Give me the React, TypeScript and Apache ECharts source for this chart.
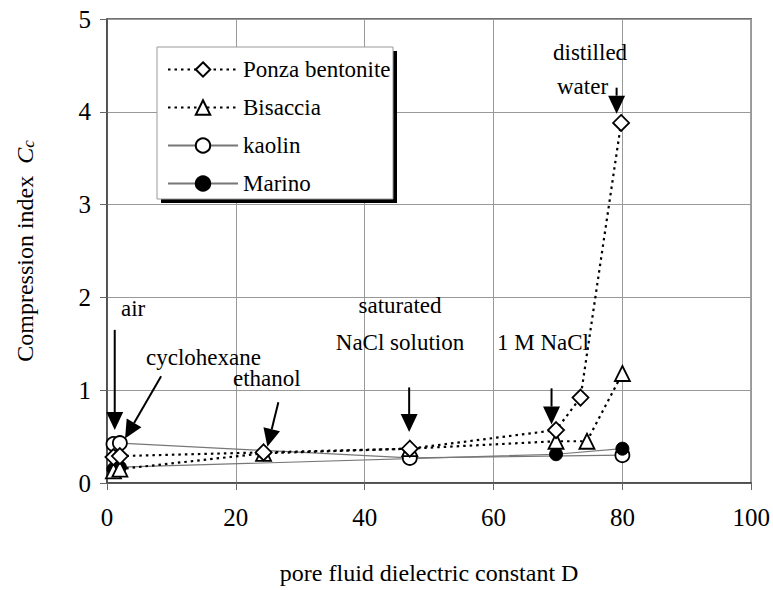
import React, { useEffect, useRef } from "react";
import * as echarts from "echarts";

const FONT = "Liberation Serif";

const D_PONZA = [1, 2, 24.3, 47, 69.7, 73.5, 79.8];
const CC_PONZA = [0.28, 0.29, 0.33, 0.37, 0.57, 0.92, 3.88];
const D_BISACCIA = [1, 2, 24.3, 47, 69.7, 74.5, 80];
const CC_BISACCIA = [0.13, 0.15, 0.32, 0.37, 0.45, 0.45, 1.18];
const D_KAOLIN = [1, 2, 47, 80];
const CC_KAOLIN = [0.42, 0.43, 0.27, 0.3];
const D_MARINO = [1, 2, 69.7, 80];
const CC_MARINO = [0.15, 0.17, 0.31, 0.37];

const X_TICKS = [0, 20, 40, 60, 80, 100];
const Y_TICKS = [0, 1, 2, 3, 4, 5];

// arrows: tail (D, Cc) -> head (D, Cc)
const ARROW_TAIL_D = [1.2, 8.4, 26.6, 46.9, 69.0, 79.1];
const ARROW_TAIL_CC = [1.65, 1.15, 0.87, 1.03, 1.02, 4.26];
const ARROW_HEAD_D = [1.2, 2.8, 24.9, 46.9, 69.0, 79.1];
const ARROW_HEAD_CC = [0.57, 0.48, 0.39, 0.55, 0.63, 3.98];

const pairs = (xs: number[], ys: number[]) => xs.map((x, i) => [x, ys[i]]);

export default function App() {
  const ref = useRef<HTMLDivElement>(null);
  useEffect(() => {
    if (!ref.current) return;
    const chart = echarts.init(ref.current, undefined, { renderer: "svg" });
    const markerStyle = { color: "#fff", borderColor: "#000", borderWidth: 1.8 };
    const dotted = { color: "#000", width: 2.2, type: [2.5, 4] as any };
    const thin = { color: "#777", width: 1.2, type: "solid" as any };
    const arrows = ARROW_TAIL_D.map((d, i) => [d, ARROW_TAIL_CC[i], ARROW_HEAD_D[i], ARROW_HEAD_CC[i]]);
    const txt = (text: string, x: number, y: number, align: string = "left") => ({
      type: "text",
      x,
      y,
      z: 20,
      style: { text, fontSize: 23, fontFamily: FONT, fill: "#000", verticalAlign: "middle", align },
    });
    chart.setOption({
      animation: false,
      backgroundColor: "#fff",
      textStyle: { fontFamily: FONT },
      grid: { left: 107, right: 20, top: 19, bottom: 104, show: true, borderColor: "#444", borderWidth: 1.5 },
      xAxis: {
        type: "value",
        min: 0,
        max: 100,
        interval: 20,
        name: "pore fluid dielectric constant D",
        nameLocation: "middle",
        nameGap: 78,
        nameTextStyle: { fontSize: 24, fontFamily: FONT, color: "#000" },
        axisLine: { lineStyle: { color: "#444", width: 1.5 } },
        axisTick: { show: true, length: 7, lineStyle: { color: "#666" } },
        axisLabel: {
          margin: 22,
          fontSize: 25,
          fontFamily: FONT,
          color: "#000",
          formatter: (v: number) => (X_TICKS.includes(v) ? String(v) : ""),
        },
        splitLine: { show: true, lineStyle: { color: "#999", width: 1 } },
      },
      yAxis: {
        type: "value",
        min: 0,
        max: 5,
        interval: 1,
        name: "Compression index  {i|C}{s|c}",
        nameLocation: "middle",
        nameGap: 70,
        nameTextStyle: {
          fontSize: 24,
          fontFamily: FONT,
          color: "#000",
          rich: {
            i: { fontSize: 24, fontFamily: FONT, fontStyle: "italic", color: "#000" },
            s: { fontSize: 17, fontFamily: FONT, fontStyle: "italic", color: "#000", padding: [6, 0, 0, 0] },
          },
        },
        axisLine: { lineStyle: { color: "#444", width: 1.5 } },
        axisTick: { show: true, length: 7, lineStyle: { color: "#666" } },
        axisLabel: {
          margin: 16,
          fontSize: 25,
          fontFamily: FONT,
          color: "#000",
          formatter: (v: number) => (Y_TICKS.includes(v) ? String(v) : ""),
        },
        splitLine: { show: true, lineStyle: { color: "#999", width: 1 } },
      },
      legend: {
        orient: "vertical",
        left: 167,
        top: 58,
        padding: 0,
        itemWidth: 70,
        itemHeight: 18,
        itemGap: 15,
        z: 10,
        selectedMode: false,
        textStyle: { fontSize: 23, fontFamily: FONT, color: "#000" },
        data: ["Ponza bentonite", "Bisaccia", "kaolin", "Marino"],
      },
      graphic: [
        { type: "rect", z: 5, shape: { x: 161, y: 51, width: 236, height: 152 }, style: { fill: "#000" } },
        {
          type: "rect",
          z: 6,
          shape: { x: 157, y: 47, width: 236, height: 152 },
          style: { fill: "#fff", stroke: "#999", lineWidth: 1 },
        },
        txt("air", 121, 308),
        txt("cyclohexane", 146, 357),
        txt("ethanol", 233, 378),
        txt("saturated", 400, 305, "center"),
        txt("NaCl solution", 400, 342, "center"),
        txt("1 M NaCl", 497, 342),
        txt("distilled", 553, 52),
        txt("water", 557, 86),
      ],
      series: [
        {
          name: "kaolin",
          type: "line",
          data: pairs(D_KAOLIN, CC_KAOLIN),
          symbol: "circle",
          symbolSize: 14,
          itemStyle: markerStyle,
          lineStyle: thin,
          z: 3,
        },
        {
          name: "Marino",
          type: "line",
          data: pairs(D_MARINO, CC_MARINO),
          symbol: "circle",
          symbolSize: 13,
          itemStyle: { color: "#000", borderColor: "#000", borderWidth: 1 },
          lineStyle: thin,
          z: 3,
        },
        {
          name: "Bisaccia",
          type: "line",
          data: pairs(D_BISACCIA, CC_BISACCIA),
          symbol: "triangle",
          symbolSize: 15,
          itemStyle: markerStyle,
          lineStyle: dotted,
          z: 4,
        },
        {
          name: "Ponza bentonite",
          type: "line",
          data: pairs(D_PONZA, CC_PONZA),
          symbol: "diamond",
          symbolSize: 16,
          itemStyle: markerStyle,
          lineStyle: dotted,
          z: 4,
        },
        {
          name: "arrows",
          type: "custom",
          data: arrows,
          encode: { x: [0, 2], y: [1, 3] },
          clip: false,
          z: 6,
          renderItem: (params: any, api: any) => {
            const p1 = api.coord([api.value(0), api.value(1)]);
            const p2 = api.coord([api.value(2), api.value(3)]);
            const dx = p2[0] - p1[0];
            const dy = p2[1] - p1[1];
            const len = Math.hypot(dx, dy) || 1;
            const ux = dx / len;
            const uy = dy / len;
            const L = 18;
            const W = 8.5;
            const bx = p2[0] - ux * L;
            const by = p2[1] - uy * L;
            const px = -uy;
            const py = ux;
            return {
              type: "group",
              children: [
                {
                  type: "line",
                  shape: { x1: p1[0], y1: p1[1], x2: bx, y2: by },
                  style: { stroke: "#000", lineWidth: 2 },
                },
                {
                  type: "polygon",
                  shape: {
                    points: [
                      [p2[0], p2[1]],
                      [bx + px * W, by + py * W],
                      [bx - px * W, by - py * W],
                    ],
                  },
                  style: { fill: "#000" },
                },
              ],
            };
          },
        },
      ],
    });
    return () => chart.dispose();
  }, []);
  return <div ref={ref} style={{ position: "fixed", left: 0, top: 0, width: 773, height: 590 }} />;
}
